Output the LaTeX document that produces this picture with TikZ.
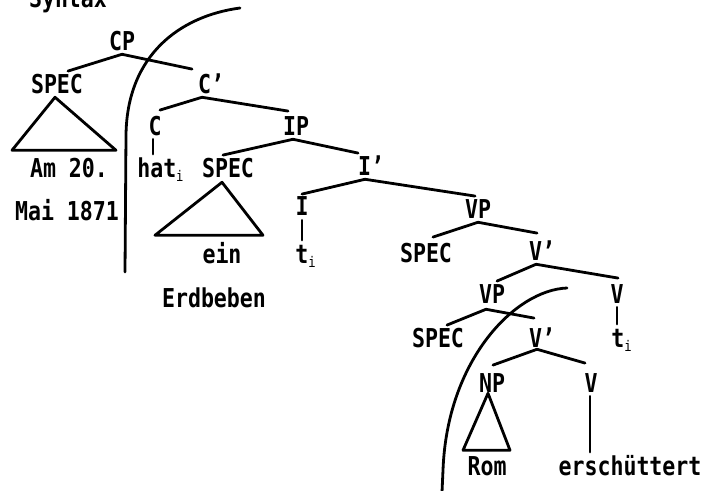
\documentclass[tikz,border=0pt]{standalone}
\usepackage{fontspec}
\newfontfamily\tw[FakeStretch=0.83]{DejaVu Sans Mono}
\usetikzlibrary{calc}
\newcommand\subi{\raisebox{-3pt}{\fontsize{11}{11}\selectfont\mdseries i}}
\begin{document}
\begin{tikzpicture}[x=0.75pt,y=-0.75pt,
  lab/.style={font=\tw\bfseries\fontsize{19.5pt}{19.5pt}\selectfont, inner xsep=0pt, inner ysep=3pt, text height=14pt, text depth=0pt, anchor=base},
  br/.style={line width=2.1pt, line cap=round, line join=round}]
\useasboundingbox (0,0) rectangle (705,490);
\clip (0,0) rectangle (705,490);
\fill[white] (0,0) rectangle (705,490);

% labels
\node[lab] (syn) at (68,7) {Syntax};
\node[lab] (cp) at (122,50) {CP};
\node[lab] (spec1) at (57,93) {SPEC};
\node[lab] (am) at (69,177) {Am 20.};
\node[lab] (mai) at (67,220) {Mai 1871};
\node[lab] (cbar) at (211,93) {C’};
\node[lab] (c) at (155,135) {C};
\node[lab, anchor=base west] (hat) at (137,177) {hat\subi};
\node[lab] (ip) at (296,135) {IP};
\node[lab] (spec2) at (228,177) {SPEC};
\node[lab] (ein) at (222,263) {ein};
\node[lab] (erd) at (214,307) {Erdbeben};
\node[lab] (ibar) at (371,175) {I’};
\node[lab] (i) at (302,215) {I};
\node[lab, anchor=base west] (t1) at (295,263) {t\subi};
\node[lab] (vp1) at (478,218) {VP};
\node[lab] (spec3) at (426,262) {SPEC};
\node[lab] (vbar1) at (542,260) {V’};
\node[lab] (vp2) at (492,303) {VP};
\node[lab] (v1) at (617,303) {V};
\node[lab, anchor=base west] (t2) at (611,347) {t\subi};
\node[lab] (spec4) at (438,347) {SPEC};
\node[lab] (vbar2) at (542,347) {V’};
\node[lab] (np) at (492,392) {NP};
\node[lab] (v2) at (591,392) {V};
\node[lab] (rom) at (487,475) {Rom};
\node[lab] (ersch) at (630,475) {erschüttert};

% branches
\draw[br] (cp.south) -- ($(spec1.north)+(11,1)$);
\draw[br] (cp.south) -- ($(cbar.north)+(-19,-1)$);
\draw[br] ($(cbar.south)+(-9,0)$) -- ($(c.north)+(5,-2)$);
\draw[br] ($(cbar.south)+(-9,0)$) -- ($(ip.north)+(-8,-1)$);
\coordinate (ch) at ($(c.south)+(-2,0)$);
\draw[br] (ch) -- (ch |- hat.north);
\draw[br] ($(ip.south)+(-3,0)$) -- ($(spec2.north)+(-5,1)$);
\draw[br] ($(ip.south)+(-3,0)$) -- ($(ibar.north)+(-13,1)$);
\draw[br] ($(ibar.south)+(-6,0)$) -- ($(i.north)+(0,2)$);
\draw[br] ($(ibar.south)+(-6,0)$) -- ($(vp1.north)+(-3,1)$);
\coordinate (it) at ($(i.south)+(0,1)$);
\draw[br] (it) -- (it |- t1.north);
\draw[br] (vp1.south) -- ($(spec3.north)+(7,-2)$);
\draw[br] (vp1.south) -- ($(vbar1.north)+(-5,-4)$);
\draw[br] ($(vbar1.south)+(-6,0)$) -- ($(vp2.north)+(5,1)$);
\draw[br] ($(vbar1.south)+(-6,0)$) -- ($(v1.north)+(1,-2)$);
\draw[br] (v1.south) -- (v1.south |- t2.north);
\draw[br] ($(vp2.south)+(-6,2)$) -- ($(spec4.north)+(9,1)$);
\draw[br] ($(vp2.south)+(-6,2)$) -- ($(vbar2.north)+(-8,-6)$);
\draw[br] ($(vbar2.south)+(-5,-2)$) -- ($(np.north)+(1,-4)$);
\draw[br] ($(vbar2.south)+(-5,-2)$) -- ($(v2.north)+(-6,-6)$);
\coordinate (ve) at ($(v2.south)+(-1,0)$);
\draw[br] (ve) -- (ve |- ersch.north);

% triangles
\draw[br] ($(spec1.south)+(-2,0)$) -- ++(-43,53) -- ++(104,0) -- cycle;
\draw[br] ($(spec2.south)+(-6,1)$) -- ++(-67,53) -- ++(108,0) -- cycle;
\draw[br] ($(np.south)+(-4,-3)$) -- ++(-25,57) -- ++(47,0) -- cycle;

% boundary curves
\draw[br] (240,8) .. controls (180,16) and (127,55) .. (126,135) -- (125,272);
\draw[br] (567,288) .. controls (515,290) and (447,360) .. (443,470) -- (442,492);
\end{tikzpicture}
\end{document}
